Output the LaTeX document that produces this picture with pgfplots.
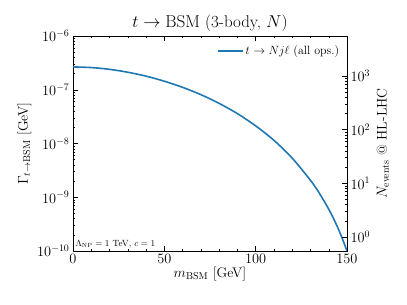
\documentclass[border=0pt]{standalone}
\usepackage{pgfplots}
\usepackage{pgfplotstable}
\pgfplotsset{compat=1.18}
\definecolor{mplblue}{HTML}{1F77B4}
\pgfplotstableread{
m G
0 2.661e-7
10 2.588e-7
20 2.399e-7
30 2.118e-7
40 1.791e-7
50 1.442e-7
60 1.109e-7
70 8.11e-8
80 5.58e-8
90 3.60e-8
100 2.13e-8
110 1.146e-8
120 5.35e-9
130 2.065e-9
135 1.17e-9
140 6.0e-10
142.5 4.1e-10
145 2.70e-10
147.5 1.68e-10
150 1.005e-10
}\gammadata
\pgfplotsset{
  mylegline/.style={legend image code/.code={\draw[mplblue, line width=1.6pt] (0cm,0cm) -- (0.88cm,0cm);}},
}
\begin{document}
\begin{tikzpicture}
\useasboundingbox (-73bp,-54bp) rectangle (334bp,251bp);
\begin{axis}[
  at={(0,0)}, anchor=south west,
  scale only axis, width=274bp, height=215bp,
  xmin=0, xmax=150, ymode=log, ymin=1e-10, ymax=1e-6,
  xtick={0,50,100,150}, minor x tick num=4,
  ytick={1e-10,1e-9,1e-8,1e-7,1e-6},
  tick align=inside,
  xtick pos=both, ytick pos=left,
  tick style={black, thin},
  major tick length=5bp, minor tick length=2.5bp,
  tick label style={font=\fontsize{14}{16}\selectfont},
  label style={font=\fontsize{14}{16}\selectfont},
  axis line style={black, line width=0.8pt},
  title={$t\rightarrow\mathrm{BSM}$ (3-body, $N$)},
  title style={font=\fontsize{17}{20}\selectfont, yshift=-5bp},
  xlabel={$m_{\mathrm{BSM}}$ [GeV]},
  ylabel={$\Gamma_{t\rightarrow\mathrm{BSM}}$ [GeV]},
  xlabel style={yshift=4bp},
  ylabel style={yshift=-1bp},
  legend style={draw=none, fill=none, at={(0.99,0.975)}, anchor=north east, font=\fontsize{12}{14}\selectfont},
  legend cell align=left,
]
\addplot[mplblue, line width=1.6pt, smooth, mylegline] table[x=m, y=G] {\gammadata};
\addlegendentry{{$t\rightarrow Nj\ell$ (all ops.)}}
\node[anchor=south west, font=\fontsize{9}{10}\selectfont, inner sep=1bp] at (rel axis cs:0.005,0.006) {$\Lambda_{\mathrm{NP}}=1$ TeV, $c=1$};
\end{axis}
\begin{axis}[
  at={(0,0)}, anchor=south west,
  scale only axis, width=274bp, height=215bp,
  xmin=0, xmax=150, ymode=log, ymin=0.55, ymax=5500,
  axis x line=none, axis y line*=right,
  ytick={1,10,100,1000},
  tick align=inside,
  tick style={black, thin},
  major tick length=5bp, minor tick length=2.5bp,
  tick label style={font=\fontsize{14}{16}\selectfont},
  label style={font=\fontsize{14}{16}\selectfont},
  axis line style={black, line width=0.8pt},
  ylabel={$N_{\mathrm{events}}$ @ HL-LHC},
]
\end{axis}
\end{tikzpicture}
\end{document}
